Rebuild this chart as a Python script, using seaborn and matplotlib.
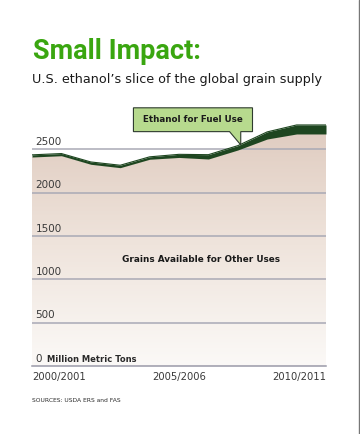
import numpy as np
import seaborn as sns
import pandas as pd
import matplotlib.pyplot as plt
from matplotlib.colors import LinearSegmentedColormap
from matplotlib.patches import Polygon
from matplotlib.lines import Line2D

# Values (million metric tons)
years = [2000, 2001, 2002, 2003, 2004, 2005, 2006, 2007, 2008, 2009, 2010]
other_uses = [2412, 2427, 2328, 2289, 2386, 2407, 2389, 2493, 2620, 2678, 2678]
ethanol = [25, 25, 27, 28, 28, 36, 50, 50, 82, 104, 104]
y_ticks = [0, 500, 1000, 1500, 2000, 2500]
x_labels = {2000: "2000/2001", 2005: "2005/2006", 2010: "2010/2011"}

df = pd.DataFrame({"year": years, "other": other_uses, "ethanol": ethanol})
df["total"] = df["other"] + df["ethanol"]

sns.set_style("white")
plt.rcParams["font.family"] = ["DejaVu Sans"]

fig = plt.figure(figsize=(3.6, 4.34), dpi=100)
ax = fig.add_axes([32 / 360, 68 / 434, 294 / 360, 242.6 / 434])

# Gradient-filled area for grains available for other uses
fill = ax.fill_between(df["year"], 0, df["other"], color="none", lw=0)
cmap = LinearSegmentedColormap.from_list("grain", ["#fbf9f7", "#efe4dc", "#dfcbbf"])
grad = np.linspace(0, 1, 256).reshape(-1, 1)
im = ax.imshow(grad, cmap=cmap, origin="lower", aspect="auto",
               extent=[2000, 2010, 0, 2800], zorder=1)
im.set_clip_path(fill.get_paths()[0], transform=ax.transData)

# Ethanol band
ax.fill_between(df["year"], df["other"], df["total"], color="#1e4620", lw=0, zorder=3)
sns.lineplot(data=df, x="year", y="total", color="#1e4620", lw=0.8, ax=ax, zorder=3)

# Grid lines and y labels inside the plot
for v in y_ticks[1:]:
    ax.axhline(v, color="#a9a9b5", lw=1.1, zorder=2)
for v in y_ticks:
    ax.text(2000.12, v + 28, str(v), fontsize=7.5, color="#3a3a3a",
            ha="left", va="bottom", zorder=4)
ax.text(2000.5, 80, "Million Metric Tons", fontsize=6, fontweight="bold",
        color="#2a2a2a", ha="left", va="center", zorder=4)

ax.text(2005.75, 1230, "Grains Available for Other Uses", fontsize=6.4,
        fontweight="bold", color="#1a1a1a", ha="center", va="center", zorder=4)

# Callout box with pointer
L, R, B, T = 2003.45, 2007.5, 2705, 2980
tip_x, tip_y = 2007.1, 2552
callout = Polygon([(L, B), (2006.72, B), (tip_x, tip_y), (tip_x, B), (R, B), (R, T), (L, T)],
                  closed=True, facecolor="#b7da8e", edgecolor="#2e3b2e", lw=0.8,
                  clip_on=False, zorder=5)
ax.add_patch(callout)
ax.text((L + R) / 2, (B + T) / 2, "Ethanol for Fuel Use", fontsize=6.3,
        fontweight="bold", color="#1a1a1a", ha="center", va="center",
        zorder=6, clip_on=False)

ax.set_xlim(2000, 2010)
ax.set_ylim(0, 2800)
ax.set_xticks([])
ax.set_yticks([])
ax.set_xlabel("")
ax.set_ylabel("")
for side in ["top", "left", "right"]:
    ax.spines[side].set_visible(False)
ax.spines["bottom"].set_color("#9a9aa8")
ax.spines["bottom"].set_linewidth(1.1)

for yr, lab in x_labels.items():
    ha = "left" if yr == 2000 else ("right" if yr == 2010 else "center")
    ax.text(yr, -0.045, lab, transform=ax.get_xaxis_transform(), fontsize=7.2,
            color="#3a3a3a", ha=ha, va="center")

# Titles and source
fig.text(33 / 360, 1 - 59 / 434, "Small Impact:", family=["Roboto", "DejaVu Sans"],
         fontsize=19.5, fontweight="bold", color="#3aa610", ha="left", va="baseline")
fig.text(32 / 360, 1 - 83 / 434, "U.S. ethanol\u2019s slice of the global grain supply",
         fontsize=9.2, color="#1a1a1a", ha="left", va="baseline")
fig.text(32 / 360, 1 - 400 / 434, "SOURCES: USDA ERS and FAS", fontsize=4.3,
         color="#2a2a2a", ha="left", va="center")

fig.add_artist(Line2D([359 / 360, 359 / 360], [0, 1], color="#777777", lw=1,
                      transform=fig.transFigure))

plt.savefig("out.png", dpi=100)
